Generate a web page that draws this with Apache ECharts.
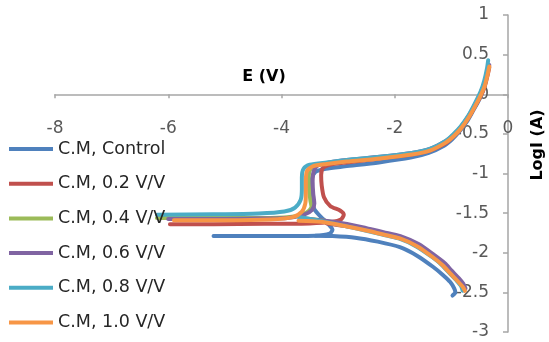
<!DOCTYPE html>
<html><head><meta charset="utf-8">
<script src="https://cdn.jsdelivr.net/npm/echarts@6/dist/echarts.min.js"></script>
<style>html,body{margin:0;padding:0;background:#fff}#c{width:549px;height:342px}</style>
</head><body><div id="c"></div>
<script>
var seriesNames = ['C.M, Control','C.M, 0.2 V/V','C.M, 0.4 V/V','C.M, 0.6 V/V','C.M, 0.8 V/V','C.M, 1.0 V/V'];
var seriesColors = ['#4F81BD','#C0504D','#9BBB59','#8064A2','#4BACC6','#F79646'];
var xTicks = {min:-8, max:0, interval:2};
var yTicks = {min:-3, max:1, interval:0.5};

var controlAnodic = [[-0.36,0.3],[-0.39,0.18],[-0.44,0.05],[-0.51,-0.07],[-0.61,-0.2],[-0.73,-0.35],[-0.87,-0.48],[-0.99,-0.57],[-1.13,-0.65],[-1.4,-0.74],[-1.72,-0.8],[-2.28,-0.86],[-2.88,-0.91],[-3.22,-0.94],[-3.4,-0.98],[-3.46,-1.06],[-3.47,-1.2],[-3.46,-1.35],[-3.42,-1.45],[-3.3,-1.55],[-3.17,-1.64],[-3.1,-1.71],[-3.15,-1.76],[-3.4,-1.785],[-4.3,-1.79],[-5.2,-1.79]];
var controlCathodic = [[-0.98,-2.54],[-0.93,-2.5],[-0.95,-2.45],[-1.02,-2.37],[-1.15,-2.28],[-1.32,-2.18],[-1.6,-2.04],[-1.91,-1.93],[-2.3,-1.86],[-2.7,-1.81],[-3.1,-1.79],[-3.4,-1.785]];

var v02Anodic = [[-0.33,0.34],[-0.36,0.24],[-0.41,0.1],[-0.48,-0.02],[-0.58,-0.15],[-0.7,-0.3],[-0.84,-0.44],[-0.96,-0.53],[-1.1,-0.62],[-1.38,-0.71],[-1.7,-0.76],[-2.26,-0.81],[-2.85,-0.86],[-3.15,-0.89],[-3.27,-0.93],[-3.3,-1.02],[-3.29,-1.15],[-3.25,-1.3],[-3.14,-1.41],[-2.96,-1.47],[-2.9,-1.52],[-2.95,-1.58],[-3.1,-1.61],[-3.5,-1.63],[-4.3,-1.635],[-5.2,-1.64],[-5.97,-1.64]];
var v02Cathodic = [[-0.78,-2.47],[-0.82,-2.41],[-0.9,-2.34],[-1.02,-2.25],[-1.15,-2.15],[-1.32,-2.05],[-1.6,-1.91],[-1.91,-1.81],[-2.2,-1.76],[-2.5,-1.71],[-2.9,-1.66],[-3.2,-1.63]];

var v04Anodic = [[-0.34,0.36],[-0.37,0.26],[-0.42,0.12],[-0.49,0.0],[-0.59,-0.14],[-0.71,-0.29],[-0.85,-0.43],[-0.97,-0.52],[-1.1,-0.6],[-1.38,-0.7],[-1.7,-0.75],[-2.26,-0.8],[-2.85,-0.84],[-3.2,-0.87],[-3.42,-0.9],[-3.5,-0.96],[-3.52,-1.08],[-3.51,-1.22],[-3.49,-1.34],[-3.47,-1.42],[-3.55,-1.49],[-3.75,-1.54],[-4.2,-1.56],[-5.0,-1.56],[-5.7,-1.56],[-6.2,-1.56]];
var v04Cathodic = [[-0.77,-2.47],[-0.81,-2.41],[-0.89,-2.34],[-1.01,-2.25],[-1.14,-2.15],[-1.31,-2.05],[-1.6,-1.91],[-1.91,-1.8],[-2.2,-1.75],[-2.5,-1.7],[-2.9,-1.64],[-3.3,-1.59],[-3.6,-1.565]];

var v06Anodic = [[-0.33,0.37],[-0.36,0.27],[-0.41,0.13],[-0.48,0.01],[-0.58,-0.13],[-0.7,-0.28],[-0.84,-0.42],[-0.96,-0.51],[-1.1,-0.59],[-1.38,-0.69],[-1.7,-0.74],[-2.26,-0.79],[-2.85,-0.83],[-3.15,-0.86],[-3.36,-0.9],[-3.43,-0.97],[-3.45,-1.1],[-3.44,-1.25],[-3.42,-1.38],[-3.46,-1.46],[-3.6,-1.52],[-3.9,-1.56],[-4.6,-1.57],[-5.4,-1.575],[-6.0,-1.575]];
var v06Cathodic = [[-0.75,-2.45],[-0.79,-2.39],[-0.87,-2.32],[-0.99,-2.23],[-1.12,-2.13],[-1.3,-2.03],[-1.58,-1.89],[-1.9,-1.79],[-2.2,-1.74],[-2.5,-1.69],[-2.9,-1.63],[-3.3,-1.59],[-3.6,-1.575]];

var v08Anodic = [[-0.35,0.43],[-0.37,0.33],[-0.42,0.17],[-0.48,0.04],[-0.58,-0.11],[-0.7,-0.27],[-0.84,-0.41],[-0.96,-0.5],[-1.1,-0.59],[-1.38,-0.69],[-1.7,-0.74],[-2.26,-0.79],[-2.85,-0.83],[-3.2,-0.86],[-3.5,-0.89],[-3.61,-0.94],[-3.64,-1.05],[-3.64,-1.2],[-3.66,-1.33],[-3.76,-1.43],[-3.95,-1.48],[-4.4,-1.505],[-5.2,-1.515],[-6.2,-1.52]];
var v08Cathodic = [[-0.8,-2.48],[-0.83,-2.42],[-0.91,-2.35],[-1.03,-2.26],[-1.16,-2.16],[-1.33,-2.06],[-1.62,-1.92],[-1.93,-1.82],[-2.22,-1.77],[-2.52,-1.72],[-2.9,-1.66],[-3.3,-1.6],[-3.7,-1.55]];

var v10Anodic = [[-0.33,0.35],[-0.36,0.25],[-0.41,0.11],[-0.48,-0.01],[-0.58,-0.15],[-0.7,-0.3],[-0.84,-0.44],[-0.96,-0.53],[-1.1,-0.61],[-1.38,-0.71],[-1.7,-0.76],[-2.26,-0.81],[-2.85,-0.85],[-3.2,-0.88],[-3.45,-0.91],[-3.55,-0.97],[-3.57,-1.1],[-3.57,-1.25],[-3.58,-1.38],[-3.64,-1.48],[-3.8,-1.55],[-4.2,-1.58],[-5.0,-1.59],[-5.9,-1.59]];
var v10Cathodic = [[-0.76,-2.48],[-0.8,-2.43],[-0.9,-2.35],[-1.02,-2.26],[-1.15,-2.16],[-1.32,-2.06],[-1.6,-1.92],[-1.91,-1.82],[-2.2,-1.77],[-2.5,-1.72],[-2.9,-1.66],[-3.3,-1.61],[-3.7,-1.595]];

var branches = [
  [controlAnodic, controlCathodic],
  [v02Anodic, v02Cathodic],
  [v04Anodic, v04Cathodic],
  [v06Anodic, v06Cathodic],
  [v08Anodic, v08Cathodic],
  [v10Anodic, v10Cathodic]
];

var series = [];
branches.forEach(function(pair, i){
  pair.forEach(function(data){
    series.push({
      name: seriesNames[i], type:'line', data:data, smooth:0.25,
      symbol:'none', showSymbol:false, animation:false,
      lineStyle:{width:4, color:seriesColors[i], cap:'round', join:'round'},
      itemStyle:{color:seriesColors[i]}
    });
  });
});

var gridLeft = 55, gridRight = 41, gridTop = 15, gridBottom = 10;
var plotW = 549 - gridLeft - gridRight, plotH = 342 - gridTop - gridBottom;

var chart = echarts.init(document.getElementById('c'));
chart.setOption({
  animation:false,
  backgroundColor:'#fff',
  grid:{left:gridLeft, right:gridRight, top:gridTop, bottom:gridBottom, containLabel:false, outerBoundsMode:'none'},
  xAxis:{type:'value', position:'bottom', min:xTicks.min, max:xTicks.max, interval:xTicks.interval,
    offset: -plotH * (0 - yTicks.min) / (yTicks.max - yTicks.min),
    axisLine:{show:true, onZero:false, lineStyle:{color:'#a6a6a6', width:1.5}},
    axisTick:{show:true, length:4, lineStyle:{color:'#a6a6a6', width:1.5}},
    axisLabel:{margin:26, color:'#595959', fontFamily:'DejaVu Sans', fontSize:17},
    splitLine:{show:false}},
  yAxis:{type:'value', position:'left', min:yTicks.min, max:yTicks.max, interval:yTicks.interval,
    offset: -plotW,
    axisLine:{show:true, onZero:false, lineStyle:{color:'#a6a6a6', width:1.5}},
    axisTick:{show:true, length:5, lineStyle:{color:'#a6a6a6', width:1.5}},
    axisLabel:{margin:19, color:'#595959', fontFamily:'DejaVu Sans', fontSize:17},
    splitLine:{show:false}},
  legend:{orient:'vertical', left:9, top:139, padding:0, height:210, icon:'rect', itemWidth:44, itemHeight:4,
    itemGap:14.7, data:seriesNames,
    textStyle:{fontFamily:'DejaVu Sans', fontSize:17.5, color:'#262626', lineHeight:20}},
  graphic:[
    {type:'text', x:264, y:77, style:{text:'E (V)', font:'bold 16px "DejaVu Sans"', fill:'#000', align:'center', verticalAlign:'middle'}},
    {type:'text', x:538, y:145, rotation:Math.PI/2, style:{text:'LogI (A)', font:'bold 16px "DejaVu Sans"', fill:'#000', align:'center', verticalAlign:'middle'}}
  ],
  series: series
});
</script>
</body></html>
